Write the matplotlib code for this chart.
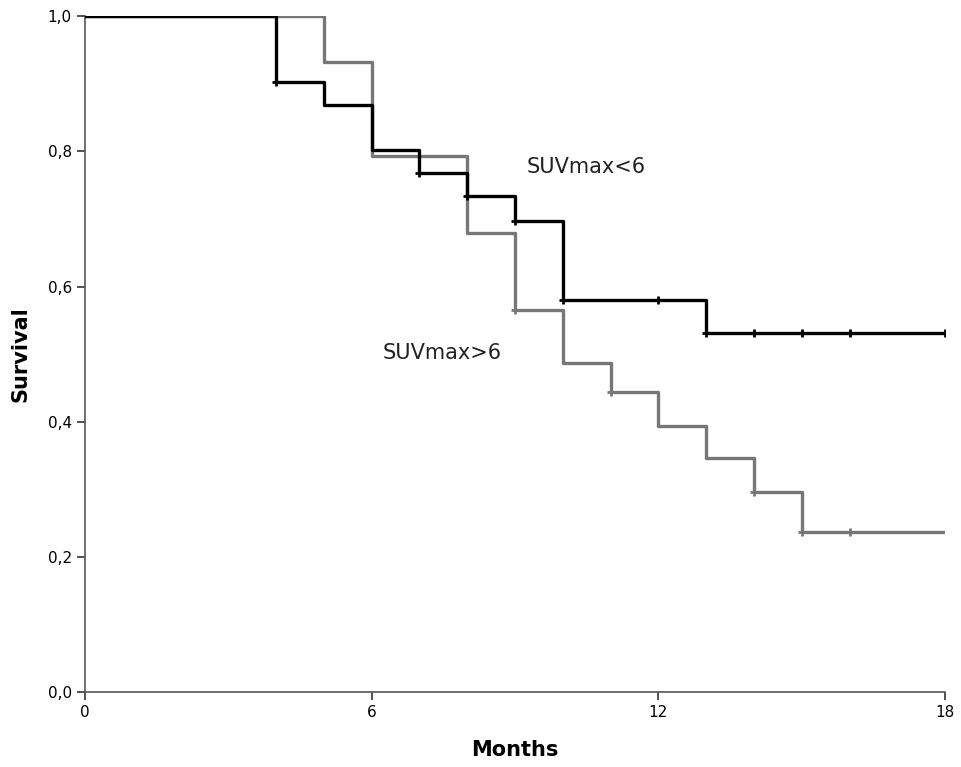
import numpy as np
import matplotlib.pyplot as plt

# Kaplan-Meier steps
low_t = [0, 4, 5, 6, 7, 8, 9, 10, 13, 18]
low_s = [1.0, 0.902, 0.868, 0.802, 0.768, 0.734, 0.697, 0.580, 0.531, 0.531]
low_cens = [4, 7, 8, 9, 10, 12, 13, 14, 15, 16, 18]

high_t = [0, 5, 6, 8, 9, 10, 11, 12, 13, 14, 15, 18]
high_s = [1.0, 0.932, 0.793, 0.679, 0.565, 0.487, 0.444, 0.393, 0.346, 0.296, 0.237, 0.237]
high_cens = [9, 11, 14, 15, 16]

xticks = [0, 6, 12, 18]
yticks = [0.0, 0.2, 0.4, 0.6, 0.8, 1.0]


def surv_at(t, times, surv):
    i = np.searchsorted(times, t, side='right') - 1
    return np.array(surv)[i]


fig = plt.figure(figsize=(9.62, 7.67), dpi=100)
ax = fig.add_axes([0.0884, 0.0978, 0.894, 0.881])

gray = '#777777'
ax.step(high_t, high_s, where='post', color=gray, lw=2.4, zorder=2)
ax.plot(high_cens, surv_at(high_cens, high_t, high_s), '+', color=gray,
        ms=6, mew=2, zorder=2)
ax.step(low_t, low_s, where='post', color='black', lw=2.4, zorder=3)
ax.plot(low_cens, surv_at(low_cens, low_t, low_s), '+', color='black',
        ms=6, mew=2, zorder=3)

ax.text(9.25, 0.777, 'SUVmax<6', fontsize=15, ha='left', va='center', color='#222222')
ax.text(6.22, 0.501, 'SUVmax>6', fontsize=15, ha='left', va='center', color='#222222')

ax.set_xlim(0, 18)
ax.set_ylim(0, 1.0)
ax.set_xticks(xticks)
ax.set_xticklabels([str(t) for t in xticks], fontsize=11)
ax.set_yticks(yticks)
ax.set_yticklabels([f'{v:.1f}'.replace('.', ',') for v in yticks], fontsize=11)
ax.tick_params(direction='out', length=6, width=1.2, color='#333333')
for side in ['top', 'right']:
    ax.spines[side].set_visible(False)
for side in ['left', 'bottom']:
    ax.spines[side].set_color('#555555')
    ax.spines[side].set_linewidth(1.2)

ax.set_xlabel('Months', fontsize=15, fontweight='bold', labelpad=14)
ax.set_ylabel('Survival', fontsize=15, fontweight='bold', labelpad=12)

fig.savefig('out.png', dpi=100)
